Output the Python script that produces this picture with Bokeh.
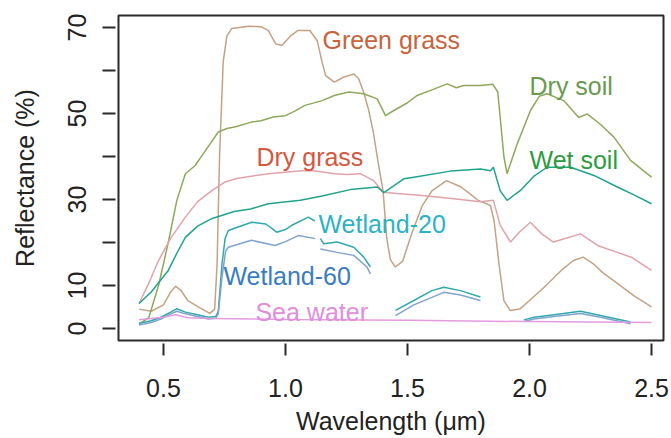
import math
from bokeh.plotting import figure
from bokeh.models import Range1d, FixedTicker, ColumnDataSource, PrintfTickFormatter
from bokeh.core.properties import value
from bokeh.embed import file_html
from bokeh.resources import INLINE

NaN = float("nan")

# ---------------- data (wavelength in um, reflectance in %) ----------------
green_grass_x = [0.40, 0.45, 0.50, 0.53, 0.55, 0.57, 0.60, 0.65, 0.69, 0.71, 0.72, 0.73, 0.745, 0.76,
                 0.78, 0.85, 0.90, 0.93, 0.96, 0.985, 1.02, 1.05, 1.10, 1.13, 1.15, 1.165, 1.20, 1.24,
                 1.28, 1.30, 1.32, 1.34, 1.36, 1.38, 1.40, 1.415, 1.43, 1.45, 1.48, 1.52, 1.56, 1.60,
                 1.66, 1.72, 1.79, 1.84, 1.855, 1.875, 1.895, 1.92, 1.96, 2.00, 2.06, 2.13, 2.18, 2.22,
                 2.26, 2.30, 2.36, 2.43, 2.50]
green_grass_y = [4.5, 4.0, 5.5, 8.5, 9.8, 9.0, 6.5, 4.8, 3.5, 4.5, 15.0, 40.0, 62.0, 68.0,
                 69.8, 70.3, 70.2, 69.3, 66.2, 65.8, 68.0, 69.3, 69.3, 67.0, 62.0, 58.8, 57.3, 58.5,
                 59.2, 58.1, 55.0, 51.0, 45.7, 38.5, 32.0, 21.0, 16.0, 14.3, 15.6, 22.5, 28.5, 32.0,
                 34.4, 32.9, 29.8, 28.6, 25.0, 15.0, 6.5, 4.2, 4.5, 6.5, 9.6, 13.5, 15.8, 16.6,
                 15.1, 13.0, 10.5, 7.5, 5.0]

dry_soil_x = [0.40, 0.44, 0.48, 0.52, 0.555, 0.59, 0.63, 0.68, 0.725, 0.76, 0.80, 0.86, 0.90, 0.95,
              1.00, 1.04, 1.08, 1.15, 1.20, 1.26, 1.32, 1.376, 1.41, 1.444, 1.50, 1.54, 1.60, 1.663,
              1.70, 1.73, 1.80, 1.85, 1.87, 1.895, 1.908, 1.95, 2.004, 2.04, 2.072, 2.14, 2.202,
              2.236, 2.29, 2.346, 2.414, 2.46, 2.50]
dry_soil_y = [1.0, 2.5, 10.0, 20.0, 29.8, 36.0, 37.9, 42.0, 45.7, 46.5, 47.0, 48.0, 48.3, 49.2,
              49.5, 50.6, 51.9, 53.0, 54.2, 55.0, 54.6, 53.4, 49.5, 50.7, 52.5, 54.2, 55.5, 56.9,
              56.0, 56.5, 56.5, 56.8, 55.0, 40.0, 36.0, 43.0, 50.7, 54.0, 54.6, 53.0, 49.1,
              49.9, 47.5, 44.5, 39.1, 37.0, 35.2]

dry_grass_x = [0.40, 0.44, 0.48, 0.53, 0.59, 0.64, 0.70, 0.75, 0.80, 0.93, 1.066, 1.115, 1.204,
               1.253, 1.307, 1.361, 1.40, 1.457, 1.55, 1.69, 1.80, 1.852, 1.88, 1.922, 1.96, 2.004,
               2.05, 2.098, 2.15, 2.209, 2.279, 2.36, 2.42, 2.50]
dry_grass_y = [5.8, 10.5, 15.8, 21.0, 25.9, 29.5, 32.1, 34.0, 34.9, 36.0, 36.7, 36.7, 36.0,
               35.8, 36.0, 34.4, 31.7, 31.4, 31.0, 30.2, 29.5, 29.8, 24.0, 20.1, 22.5, 24.7,
               22.0, 20.1, 21.0, 22.0, 19.3, 17.7, 16.5, 13.5]

wet_soil_x = [0.40, 0.45, 0.52, 0.555, 0.59, 0.64, 0.70, 0.79, 0.857, 0.93, 1.061, 1.15, 1.266,
              1.376, 1.403, 1.485, 1.526, 1.676, 1.80, 1.84, 1.852, 1.88, 1.908, 1.963, 2.02,
              2.072, 2.168, 2.264, 2.36, 2.43, 2.50]
wet_soil_y = [5.8, 8.5, 13.5, 17.5, 21.2, 23.8, 25.6, 27.2, 27.8, 29.0, 29.8, 30.8, 32.3,
              32.9, 31.6, 34.8, 35.2, 36.6, 37.1, 36.7, 37.5, 32.0, 29.8, 32.1, 35.5,
              37.5, 37.5, 35.6, 32.9, 31.0, 29.0]

wetland20_x = [0.40, 0.45, 0.49, 0.53, 0.555, 0.59, 0.64, 0.684, 0.715, 0.725, 0.74, 0.753, 0.766,
               0.80, 0.862, 0.92, 0.964, 1.00, 1.026, 1.094, 1.12, NaN,
               1.143, 1.157, 1.212, 1.28, 1.321, 1.348, NaN,
               1.451, 1.526, 1.60, 1.649, 1.717, 1.799, NaN,
               1.977, 2.018, 2.10, 2.209, 2.291, 2.414]
wetland20_y = [1.2, 1.8, 2.6, 3.8, 4.6, 3.8, 3.2, 2.6, 2.8, 4.0, 15.0, 21.0, 22.8,
               23.5, 24.7, 24.3, 22.4, 23.0, 24.0, 25.9, 25.0, NaN,
               20.9, 19.7, 20.1, 18.9, 16.6, 14.3, NaN,
               4.2, 6.5, 8.8, 9.6, 8.8, 7.3, NaN,
               2.0, 2.6, 3.2, 4.0, 3.0, 1.5]

wetland60_x = [0.40, 0.45, 0.49, 0.53, 0.555, 0.59, 0.64, 0.684, 0.715, 0.725, 0.74, 0.755, 0.766,
               0.861, 0.958, 1.00, 1.053, 1.122, NaN,
               1.143, 1.212, 1.28, 1.334, 1.348, NaN,
               1.451, 1.526, 1.649, 1.717, 1.799, NaN,
               1.977, 2.018, 2.10, 2.209, 2.291, 2.414]
wetland60_y = [0.8, 1.4, 2.2, 3.4, 4.0, 3.4, 2.8, 2.2, 2.4, 3.5, 12.0, 18.0, 18.9,
               20.5, 19.3, 20.2, 21.6, 20.9, NaN,
               18.5, 17.7, 17.0, 14.3, 12.7, NaN,
               3.0, 5.5, 8.4, 7.8, 6.5, NaN,
               1.6, 2.2, 2.8, 3.5, 2.6, 1.1]

sea_water_x = [0.40, 0.50, 0.55, 0.60, 0.70, 1.00, 1.50, 2.00, 2.50]
sea_water_y = [2.0, 2.6, 3.2, 2.5, 2.3, 2.1, 1.9, 1.6, 1.4]

series_names = ["Green grass", "Dry soil", "Dry grass", "Wet soil", "Wetland-20", "Wetland-60", "Sea water"]
label_x = [1.152, 2.0, 0.881, 2.0, 1.135, 0.746, 0.877]
label_y = [67.2, 56.5, 40.0, 39.3, 24.4, 12.3, 3.8]

x_ticks = [0.5, 1.0, 1.5, 2.0, 2.5]
y_ticks = [0, 10, 20, 30, 40, 50, 60, 70]
y_tick_labels = {0: "0", 10: "10", 20: "", 30: "30", 40: "", 50: "50", 60: "", 70: "70"}
x_title = "Wavelength (μm)"
y_title = "Reflectance (%)"

# ---------------- styles ----------------
line_colors = ["#c4a283", "#8fa85c", "#e0a3aa", "#1fa38c", "#2fa9ad", "#7fa3cc", "#e39be0"]
label_colors = ["#c8643c", "#6a9a50", "#d4583f", "#2c9c3e", "#2cb2c8", "#3a7cc2", "#e08ddc"]
FONT = "Liberation Sans"
INK = "#222222"

p = figure(width=671, height=438, output_backend="svg", toolbar_location=None,
           x_range=Range1d(0.316, 2.549), y_range=Range1d(-2.8, 72.8),
           min_border_left=118, min_border_right=8, min_border_top=15, min_border_bottom=98)
p.grid.visible = False
p.background_fill_color = "white"
p.border_fill_color = "white"
p.outline_line_color = "#2a2a2a"
p.outline_line_width = 2

series = [(green_grass_x, green_grass_y), (dry_soil_x, dry_soil_y), (dry_grass_x, dry_grass_y),
          (wet_soil_x, wet_soil_y), (wetland20_x, wetland20_y), (wetland60_x, wetland60_y),
          (sea_water_x, sea_water_y)]
for (xs, ys), c in zip(series, line_colors):
    p.line(xs, ys, line_color=c, line_width=1.5)

src = ColumnDataSource(dict(x=label_x, y=label_y, text=series_names, color=label_colors))
p.text(x="x", y="y", text="text", source=src, text_color="color",
       text_font=value(FONT), text_font_size=value("25px"),
       text_align="left", text_baseline="alphabetic")

# axes
xa = p.xaxis[0]
xa.ticker = FixedTicker(ticks=x_ticks)
xa.formatter = PrintfTickFormatter(format="%.1f")
xa.axis_label = x_title
ya = p.yaxis[0]
ya.ticker = FixedTicker(ticks=y_ticks)
ya.major_label_overrides = y_tick_labels
ya.major_label_orientation = "vertical"
ya.axis_label = y_title

for ax in (xa, ya):
    ax.axis_line_color = None
    ax.minor_tick_line_color = None
    ax.major_tick_line_color = "#2a2a2a"
    ax.major_tick_line_width = 2
    ax.major_tick_in = -3
    ax.major_label_text_font = FONT
    ax.major_label_text_font_size = "25px"
    ax.major_label_text_color = INK
    ax.axis_label_text_font = FONT
    ax.axis_label_text_font_size = "25px"
    ax.axis_label_text_font_style = "normal"
    ax.axis_label_text_color = INK

xa.major_tick_out = 15
xa.major_label_standoff = 23
xa.axis_label_standoff = 7
ya.major_tick_out = 16
ya.major_label_standoff = 16
ya.axis_label_standoff = 27

open("out.html", "w").write(file_html(p, INLINE))
